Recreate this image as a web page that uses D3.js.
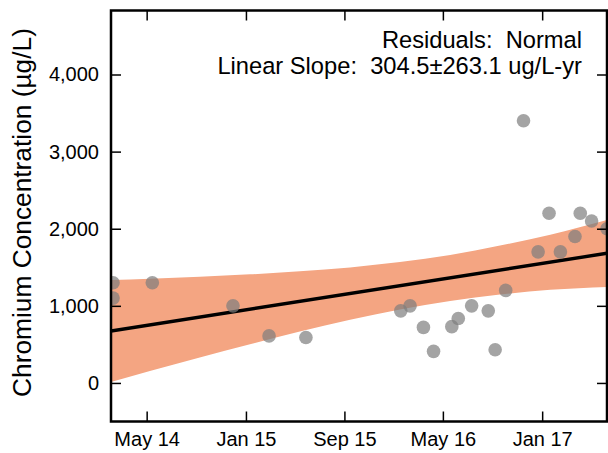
<!DOCTYPE html>
<html>
<head>
<meta charset="utf-8">
<script src="https://cdn.jsdelivr.net/npm/d3@7"></script>
<style>
  html, body { margin: 0; padding: 0; background: #fff; }
  svg { display: block; font-family: "Liberation Sans", Arial, sans-serif; }
</style>
</head>
<body>
<svg id="chart" width="608" height="453"></svg>
<script>
// ---- data ----
const sampleDates = ["2014-02-07","2014-02-07","2014-05-15","2014-11-30","2015-02-27","2015-05-29",
  "2016-01-18","2016-02-10","2016-03-14","2016-04-08","2016-05-23","2016-06-08","2016-07-11",
  "2016-08-21","2016-09-07","2016-10-03","2016-11-16","2016-12-22","2017-01-18","2017-02-15",
  "2017-03-23","2017-04-05","2017-05-03","2017-06-10"];
const sampleValues = [1300,1100,1300,1000,610,590,
  935,1000,720,410,730,835,1000,
  935,430,1200,3400,1700,2200,1700,
  1900,2200,2100,2000];

const bandDates = ["2014-02-02","2014-05-09","2014-09-09","2015-01-11","2015-05-14","2015-09-15",
  "2016-01-16","2016-05-19","2016-09-19","2017-01-21","2017-06-10"];
const bandUpper = [1335,1352,1378,1408,1448,1498,1567,1659,1781,1922,2113];
const bandLower = [12,154,330,502,667,819,952,1063,1146,1207,1244];

const trendDates = ["2014-02-02","2017-06-10"];
const trendValues = [674,1681];

const xTickDates = ["2014-05-01","2015-01-01","2015-09-01","2016-05-01","2017-01-01"];
const yTickValues = [0,1000,2000,3000,4000];

const xDomain = ["2014-02-02","2017-06-10"];
const yDomain = [-500,4830];

const yTitle = "Chromium Concentration (µg/L)";
const noteLines = ["Residuals:  Normal", "Linear Slope:  304.5±263.1 ug/L-yr"];

// ---- drawing ----
const parse = d3.timeParse("%Y-%m-%d");
const svg = d3.select("#chart");
const L = 111, R = 607, T = 10.5, B = 421.5;

const x = d3.scaleTime().domain(xDomain.map(parse)).range([L, R]);
const y = d3.scaleLinear().domain(yDomain).range([B, T]);

svg.append("defs").append("clipPath").attr("id","clip")
  .append("rect").attr("x",L).attr("y",T).attr("width",R-L).attr("height",B-T);

const plot = svg.append("g").attr("clip-path","url(#clip)");

const band = bandDates.map((d,i) => ({d: parse(d), lo: bandLower[i], hi: bandUpper[i]}));
plot.append("path")
  .datum(band)
  .attr("fill","#f4a582")
  .attr("d", d3.area().curve(d3.curveMonotoneX)
     .x(p => x(p.d)).y0(p => y(p.lo)).y1(p => y(p.hi)));

const trend = trendDates.map((d,i) => ({d: parse(d), v: trendValues[i]}));
plot.append("path")
  .datum(trend)
  .attr("fill","none").attr("stroke","#000").attr("stroke-width",3.5)
  .attr("d", d3.line().x(p => x(p.d)).y(p => y(p.v)));

const pts = sampleDates.map((d,i) => ({d: parse(d), v: sampleValues[i]}));
plot.selectAll("circle.pt").data(pts).enter().append("circle")
  .attr("class","pt")
  .attr("cx", p => x(p.d)).attr("cy", p => y(p.v)).attr("r", 6.8)
  .attr("fill","rgb(126,126,126)").attr("fill-opacity",0.7);

// axes
const fmtX = d3.timeFormat("%b %y");
const xt = xTickDates.map(parse);
const axB = svg.append("g").attr("transform",`translate(0,${B})`)
  .call(d3.axisBottom(x).tickValues(xt).tickFormat(fmtX).tickSize(-10).tickPadding(10.5));
const axT = svg.append("g").attr("transform",`translate(0,${T})`)
  .call(d3.axisTop(x).tickValues(xt).tickFormat("").tickSize(-10));
const axL = svg.append("g").attr("transform",`translate(${L},0)`)
  .call(d3.axisLeft(y).tickValues(yTickValues).tickFormat(d3.format(",")).tickSize(-10).tickPadding(12));
const axR = svg.append("g").attr("transform",`translate(${R},0)`)
  .call(d3.axisRight(y).tickValues(yTickValues).tickFormat("").tickSize(-10));

[axB, axT, axL, axR].forEach(g => {
  g.select(".domain").remove();
  g.selectAll(".tick line").attr("stroke","#000").attr("stroke-width",1.5);
  g.selectAll(".tick text").attr("fill","#000").style("font-size","20px")
    .style("font-family","'Liberation Sans', Arial, sans-serif");
});

// frame
svg.append("rect").attr("x",L).attr("y",T).attr("width",R-L).attr("height",B-T)
  .attr("fill","none").attr("stroke","#000").attr("stroke-width",2.5);

// y title
svg.append("text")
  .attr("transform","translate(30.5,212.5) rotate(-90)")
  .attr("text-anchor","middle")
  .style("font-size","26.3px")
  .attr("fill","#000")
  .text(yTitle);

// annotation
svg.selectAll("text.note").data(noteLines).enter().append("text")
  .attr("class","note")
  .attr("x", 582).attr("y", (d,i) => [47.5, 74][i])
  .attr("text-anchor","end")
  .style("font-size","23.7px")
  .style("white-space","pre")
  .attr("xml:space","preserve")
  .attr("fill","#000")
  .text(d => d);
</script>
</body>
</html>
